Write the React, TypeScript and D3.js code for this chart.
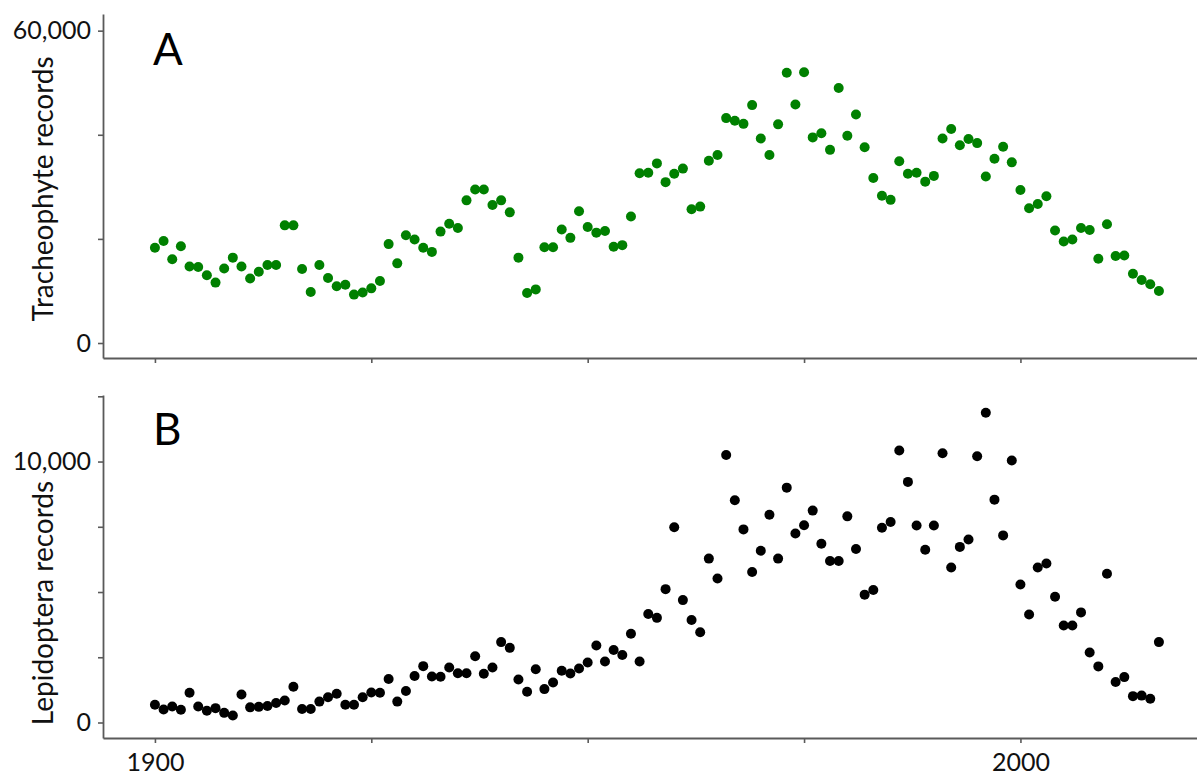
import React, { useRef, useEffect } from "react";
import * as d3 from "d3";

// one value per year, 1900 .. 2016
const years = d3.range(1900, 2017);

const tracheophyte = [
  18300, 19600, 16100, 18600, 14700, 14600, 13000, 11600, 14300, 16400,
  14700, 12400, 13700, 15000, 15000, 22600, 22600, 14200, 9800, 15000,
  12500, 10900, 11200, 9300, 9700, 10500, 11900, 19000, 15300, 20700,
  19900, 18300, 17500, 21400, 22900, 22100, 27400, 29500, 29500, 26500,
  27400, 25100, 16400, 9600, 10300, 18400, 18400, 21800, 20200, 25300,
  22300, 21200, 21500, 18500, 18800, 24300, 32600, 32700, 34500, 30900,
  32500, 33500, 25700, 26200, 35000, 36100, 43200, 42700, 42100, 45700,
  39300, 36100, 42000, 51900, 45800, 52000, 39500, 40300, 37100, 49000,
  39800, 43900, 37600, 31700, 28300, 27500, 34900, 32500, 32700, 31000,
  32100, 39300, 41100, 38000, 39200, 38400, 32000, 35400, 37700, 34700,
  29400, 25900, 26700, 28200, 21600, 19500, 19900, 22100, 21700, 16200,
  22800, 16700, 16800, 13300, 12100, 11300, 10000,
];

const lepidoptera = [
  680, 500, 610, 490, 1140, 610, 450, 550, 370, 270,
  1070, 580, 600, 630, 750, 840, 1370, 520, 520, 800,
  970, 1100, 680, 680, 970, 1150, 1140, 1670, 800, 1210,
  1780, 2160, 1760, 1750, 2110, 1890, 1890, 2540, 1870, 2110,
  3080, 2860, 1650, 1180, 2040, 1280, 1530, 1980, 1880, 2070,
  2300, 2950, 2340, 2780, 2590, 3400, 2340, 4160, 4010, 5110,
  7480, 4690, 3930, 3460, 6280, 5520, 10250, 8520, 7400, 5770,
  6580, 7960, 6280, 9000, 7240, 7560, 8120, 6850, 6190, 6190,
  7900, 6650, 4900, 5080, 7460, 7680, 10420, 9220, 7550, 6620,
  7550, 10320, 5940, 6730, 7010, 10200, 11870, 8540, 7170, 10040,
  5290, 4140, 5940, 6090, 4820, 3720, 3720, 4220, 2680, 2150,
  5700, 1550, 1740, 1010, 1030, 910, 3080,
];

const xTicks = [1900, 1925, 1950, 1975, 2000];
const xLabels = [1900, 2000];
const topTicks = [0, 20000, 40000, 60000];
const topLabels = [0, 60000];
const bottomTicks = [0, 2500, 5000, 7500, 10000, 12500];
const bottomLabels = [0, 10000];

const FONT = "Lato, 'Open Sans', sans-serif";
const AXIS = "#5a5a5a";

function App() {
  const svgRef = useRef(null);

  useEffect(() => {
    const width = 1197;
    const height = 775;
    const svg = d3.select(svgRef.current);
    svg.selectAll("*").remove();
    svg.attr("width", width).attr("height", height);

    const left = 103;

    const xScale = d3.scaleLinear().domain([1894, 2020.4]).range([left, width]);

    const panels = [
      {
        values: tracheophyte,
        color: "#008000",
        domain: [-2880, 63200],
        range: [358, 14],
        ticks: topTicks,
        labels: topLabels,
        showX: false,
        title: "Tracheophyte records",
        titleY: 189,
        letter: "A",
        letterY: 65,
      },
      {
        values: lepidoptera,
        color: "#000000",
        domain: [-594, 12550],
        range: [738, 395],
        ticks: bottomTicks,
        labels: bottomLabels,
        showX: true,
        title: "Lepidoptera records",
        titleY: 603,
        letter: "B",
        letterY: 445,
      },
    ];

    panels.forEach((p) => {
      const yScale = d3.scaleLinear().domain(p.domain).range(p.range);
      const g = svg.append("g");

      const yAxis = d3
        .axisLeft(yScale)
        .tickValues(p.ticks)
        .tickSize(5)
        .tickSizeOuter(0)
        .tickPadding(7)
        .tickFormat((d) => (p.labels.includes(d) ? d3.format(",")(d) : ""));

      const xAxis = d3
        .axisBottom(xScale)
        .tickValues(xTicks)
        .tickSize(5)
        .tickSizeOuter(0)
        .tickPadding(10)
        .tickFormat((d) => (p.showX && xLabels.includes(d) ? String(d) : ""));

      const ya = g.append("g").attr("transform", `translate(${left},0)`).call(yAxis);
      const xa = g.append("g").attr("transform", `translate(0,${p.range[0]})`).call(xAxis);

      [ya, xa].forEach((a) => {
        a.select(".domain").attr("stroke", AXIS).attr("stroke-width", 1.8);
        a.selectAll(".tick line").attr("stroke", AXIS).attr("stroke-width", 1.6);
        a.selectAll(".tick text")
          .attr("font-family", FONT)
          .attr("font-size", 25)
          .attr("fill", "#111");
      });

      g.selectAll("circle.pt")
        .data(p.values)
        .enter()
        .append("circle")
        .attr("class", "pt")
        .attr("cx", (_, i) => xScale(years[i]))
        .attr("cy", (d) => yScale(d))
        .attr("r", 5)
        .attr("fill", p.color);

      g.append("text")
        .attr("transform", `translate(53,${p.titleY}) rotate(-90)`)
        .attr("text-anchor", "middle")
        .attr("font-family", FONT)
        .attr("font-size", 28)
        .attr("fill", "#111")
        .text(p.title);

      g.append("text")
        .attr("x", xScale(1900) - 2)
        .attr("y", p.letterY)
        .attr("font-family", FONT)
        .attr("font-size", 44)
        .attr("fill", "#000")
        .text(p.letter);
    });
  }, []);

  return (
    <svg
      ref={svgRef}
      style={{ position: "absolute", left: 0, top: 0, display: "block", background: "#fff" }}
    ></svg>
  );
}

export default App;
